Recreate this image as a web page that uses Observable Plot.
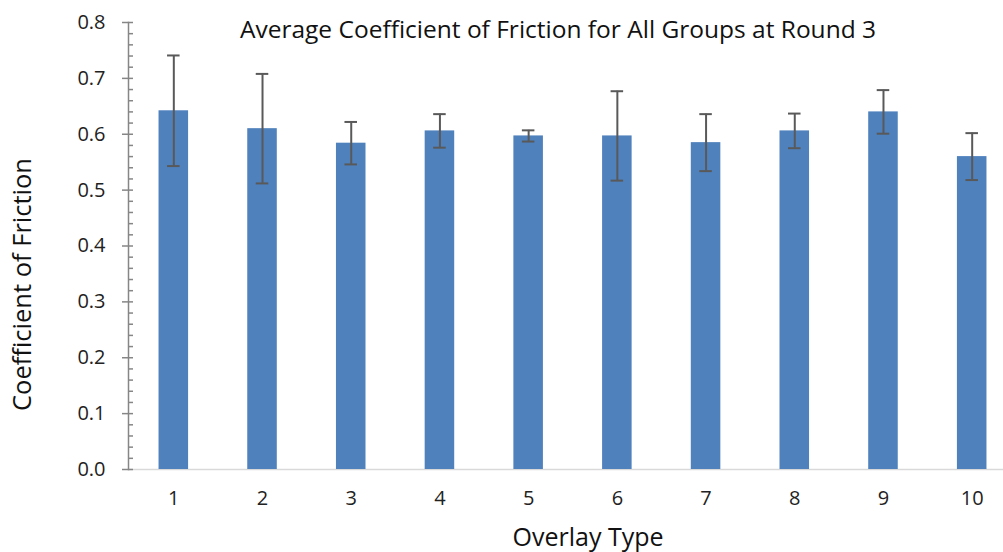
<!DOCTYPE html>
<html>
<head>
<meta charset="utf-8">
<script src="https://cdn.jsdelivr.net/npm/d3@7"></script>
<script src="https://cdn.jsdelivr.net/npm/@observablehq/plot@0.6"></script>
<style>
  html, body { margin: 0; padding: 0; background: #fff; }
  #chart svg { display: block; }
</style>
</head>
<body>
<div id="chart"></div>
<script>
const categories = ["1", "2", "3", "4", "5", "6", "7", "8", "9", "10"];
const means = [0.642, 0.610, 0.584, 0.606, 0.597, 0.597, 0.585, 0.606, 0.640, 0.560];
const errors = [0.099, 0.098, 0.038, 0.030, 0.010, 0.080, 0.051, 0.031, 0.039, 0.042];
const yTicks = [0, 0.1, 0.2, 0.3, 0.4, 0.5, 0.6, 0.7, 0.8];
const yMinorTicks = d3.range(0, 41).map(i => i * 0.02);
const title = "Average Coefficient of Friction for All Groups at Round 3";
const xTitle = "Overlay Type";
const yTitle = "Coefficient of Friction";

const data = categories.map((c, i) => ({cat: c, mean: means[i], lo: means[i] - errors[i], hi: means[i] + errors[i]}));

const font = "'Open Sans', sans-serif";
const chart = Plot.plot({
  width: 1003,
  height: 552,
  marginLeft: 128,
  marginRight: 0,
  marginTop: 22,
  marginBottom: 83,
  style: {fontFamily: font, background: "#fff", color: "#222"},
  x: {type: "band", domain: categories, range: [129, 1016], paddingInner: 0.667, paddingOuter: 0.333, round: false},
  y: {domain: [0, 0.8]},
  marks: [
    Plot.ruleY([0], {stroke: "#d9d9d9", strokeWidth: 1.5}),
    Plot.barY(data, {x: "cat", y: "mean", fill: "#4f81bd"}),
    Plot.ruleX(data, {x: "cat", y1: "lo", y2: "hi", stroke: "#595959", strokeWidth: 2}),
    Plot.tickY(data, {x: "cat", y: "hi", stroke: "#595959", strokeWidth: 2, insetLeft: 8.5, insetRight: 8.5}),
    Plot.tickY(data, {x: "cat", y: "lo", stroke: "#595959", strokeWidth: 2, insetLeft: 8.5, insetRight: 8.5}),
    Plot.frame({anchor: "left", stroke: "#868686", strokeWidth: 1.5}),
    Plot.axisY(yTicks, {anchor: "left", tickSize: 6, tickPadding: 17, tickFormat: d3.format(".1f"), stroke: "#868686", strokeWidth: 1.5, fontSize: 20, fill: "#222", label: null}),
    Plot.axisY(yMinorTicks, {anchor: "left", tickSize: -5, text: null, stroke: "#868686", strokeWidth: 1.5, label: null}),
    Plot.axisX({anchor: "bottom", tickSize: 0, tickPadding: 21, fontSize: 20, fill: "#222", label: null}),
    Plot.text([title], {frameAnchor: "top", dx: -8, dy: 8, fontSize: 24.5, fill: "#111", lineAnchor: "middle"}),
    Plot.text([xTitle], {frameAnchor: "bottom", dx: 22, dy: 68, fontSize: 25, fill: "#111", lineAnchor: "middle"}),
    Plot.text([yTitle], {frameAnchor: "left", textAnchor: "middle", dx: -106, dy: 38.5, rotate: -90, fontSize: 25.5, fill: "#111", lineAnchor: "middle"})
  ]
});
document.getElementById("chart").appendChild(chart);
</script>
</body>
</html>
